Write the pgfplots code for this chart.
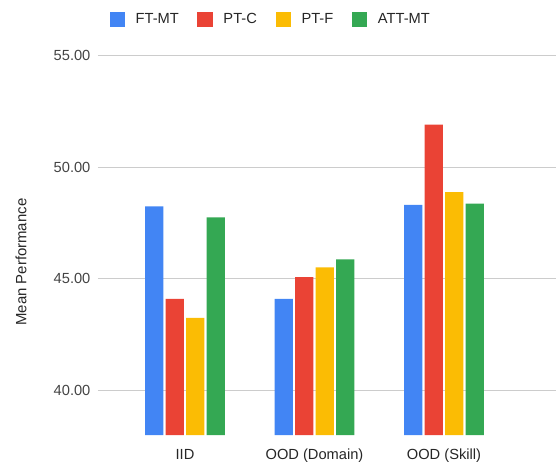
\documentclass[border=0pt]{standalone}
\usepackage{pgfplots}
\pgfplotsset{compat=1.18}
\usepackage{fontspec}
\setmainfont{Liberation Sans}
\definecolor{gblue}{HTML}{4285F4}
\definecolor{gred}{HTML}{EA4335}
\definecolor{gyellow}{HTML}{FBBC04}
\definecolor{ggreen}{HTML}{34A853}
\definecolor{ticktext}{HTML}{444444}
\definecolor{gridc}{HTML}{CCCCCC}
\begin{document}
\begin{tikzpicture}
\useasboundingbox (0,0) rectangle (417pt,345.75pt);
\begin{axis}[
  at={(73.5pt,19.5pt)}, anchor=south west,
  scale only axis,
  width=343.5pt, height=301.5pt,
  ybar=1.7pt, bar width=13.7pt,
  xmin=-0.672, xmax=2.865,
  ymin=38, ymax=56,
  xtick={0,1,2},
  xticklabels={IID, OOD (Domain), OOD (Skill)},
  ytick={40,45,50,55},
  ymajorgrids,
  grid style={gridc, line width=0.75pt},
  axis line style={draw=none},
  major tick length=0pt,
  tick label style={font=\fontsize{11pt}{13pt}\selectfont},
  xticklabel style={anchor=base, inner sep=0pt, yshift=-18pt, text=black!85},
  yticklabel style={anchor=east, inner sep=0pt, xshift=-5.5pt, text=ticktext},
  /pgf/number format/.cd, fixed, fixed zerofill, precision=2, assume math mode=true,
  /pgfplots/.cd,
  ylabel={Mean Performance},
  ylabel style={at={(axis description cs:-0.168,0.430)}, anchor=center, font=\fontsize{11.2pt}{13pt}\selectfont, text=black!85},
  legend columns=4,
  legend style={at={(axis description cs:0.375,1.0336)}, anchor=center, draw=none,
    font=\fontsize{11pt}{13pt}\selectfont, text=black!85,
    /tikz/every odd column/.append style={column sep=0pt},
    /tikz/every even column/.append style={column sep=14pt},
    nodes={inner xsep=0pt}},
  legend cell align=left,
]
\addplot[fill=gblue, draw=none, legend image code/.code={\fill[gblue] (0pt,-5.8pt) rectangle (11.6pt,5.8pt); \path (19.5pt,0);}] coordinates {(0,48.24) (1,44.10) (2,48.30)};
\addplot[fill=gred, draw=none, legend image code/.code={\fill[gred] (0pt,-5.8pt) rectangle (11.6pt,5.8pt); \path (19.5pt,0);}] coordinates {(0,44.10) (1,45.07) (2,51.90)};
\addplot[fill=gyellow, draw=none, legend image code/.code={\fill[gyellow] (0pt,-5.8pt) rectangle (11.6pt,5.8pt); \path (19.5pt,0);}] coordinates {(0,43.25) (1,45.51) (2,48.87)};
\addplot[fill=ggreen, draw=none, legend image code/.code={\fill[ggreen] (0pt,-5.8pt) rectangle (11.6pt,5.8pt); \path (19.5pt,0);}] coordinates {(0,47.75) (1,45.86) (2,48.36)};
\legend{FT-MT, PT-C, PT-F, ATT-MT}
\end{axis}
\end{tikzpicture}
\end{document}
